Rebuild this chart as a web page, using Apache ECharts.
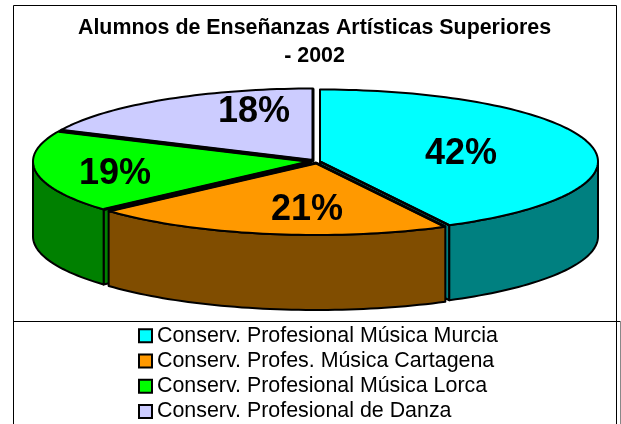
<!DOCTYPE html>
<html><head><meta charset="utf-8">
<style>html,body{margin:0;padding:0;background:#fff}#c{width:621px;height:424px}</style>
<script src="https://cdn.jsdelivr.net/npm/echarts@6/dist/echarts.min.js"></script>
</head><body><div id="c"></div>
<script>
const categories = ['Conserv. Profesional Música Murcia','Conserv. Profes. Música Cartagena','Conserv. Profesional Música Lorca','Conserv. Profesional de Danza'];
const shares = [42.3, 21.1, 18.5, 18.1];
const topColors = ['#00FFFF','#FF9900','#00FF00','#CCCCFF'];
const sideColors = ['#008080','#804D00','#008000','#666699'];
const titleLines = ['Alumnos de Enseñanzas Artísticas Superiores','- 2002'];

// layout of the pie (ellipse and the small explosion of each slice)
const RX = 278, RY = 72, DEPTH = 75;
const centers = [[320,161.5],[316,163],[311,161.5],[313,160.5]];
const labelPos = [[461,154],[307,210],[115,174],[254,112]];
const radialWidths = [2,3,3,3];
const drawOrder = [3,2,0,1];
const fs = 'Liberation Sans, Arial, sans-serif';

let acc = 0;
const ranges = shares.map(v => { const r = [acc, acc + v]; acc += v; return r; });
const total = acc;

function pt(c, deg, dy){ const t = deg*Math.PI/180; return [c[0]+RX*Math.sin(t), c[1]-RY*Math.cos(t)+(dy||0)]; }
function arc(c, a, b, dy){ const n = Math.max(2, Math.ceil(Math.abs(b-a)/1.5)); const out=[]; for(let i=0;i<=n;i++) out.push(pt(c, a+(b-a)*i/n, dy)); return out; }
const line = {stroke:'#000', lineWidth:2, lineJoin:'round'};

function makeRender(idx){
  return function(params, api){
    const a = api.value(0)/total*360, b = api.value(1)/total*360;
    const c = centers[idx], kids = [];
    const side = sideColors[idx];
    // cut faces that look towards the viewer
    const faces = [];
    if (b>90 && b<180) faces.push(b);
    if (a>180 && a<270) faces.push(a);
    faces.forEach(function(e){
      const r = pt(c,e);
      kids.push({type:'polygon',shape:{points:[c,r,[r[0],r[1]+DEPTH],[c[0],c[1]+DEPTH]]},style:Object.assign({fill:side},line)});
    });
    // outer wall
    const w1 = Math.max(a,90), w2 = Math.min(b,270);
    if (w1<w2) kids.push({type:'polygon',shape:{points:arc(c,w1,w2,0).concat(arc(c,w2,w1,DEPTH))},style:Object.assign({fill:side},line)});
    // top
    kids.push({type:'polygon',shape:{points:[c].concat(arc(c,a,b,0))},style:Object.assign({fill:topColors[idx]},line)});
    // radial edges of the top
    kids.push({type:'polyline',shape:{points:[pt(c,a),c,pt(c,b)]},style:{fill:'none',stroke:'#000',lineWidth:radialWidths[idx],lineJoin:'round'}});
    // percent label
    kids.push({type:'text',style:{text:Math.round(shares[idx])+'%',x:labelPos[idx][0],y:labelPos[idx][1],align:'center',verticalAlign:'middle',font:'bold 36px '+fs,fill:'#000'}});
    return {type:'group',children:kids};
  };
}

const frame = (s)=>({type:'line',shape:s,style:{stroke:'#000',lineWidth:1},silent:true});
const chart = echarts.init(document.getElementById('c'),null,{renderer:'canvas'});
chart.setOption({
  animation:false,
  backgroundColor:'#fff',
  title:{text:titleLines.join('\n'),left:309.5,top:9,textAlign:'center',textStyle:{fontFamily:fs,fontSize:21.4,fontWeight:'bold',color:'#000',lineHeight:28}},
  legend:{data:categories,orient:'vertical',left:138,top:323,height:120,padding:0,itemWidth:13,itemHeight:13,itemGap:0,icon:'rect',selectedMode:false,
    itemStyle:{borderColor:'#000',borderWidth:2},
    textStyle:{fontFamily:fs,fontSize:21.4,color:'#000',lineHeight:25.3}},
  graphic:[
    frame({x1:13.5,y1:5.5,x2:616.5,y2:5.5}),
    frame({x1:13.5,y1:5.5,x2:13.5,y2:424}),
    frame({x1:616.5,y1:5.5,x2:616.5,y2:424}),
    frame({x1:13,y1:321.5,x2:621,y2:321.5}),
    {type:'line',shape:{x1:620.5,y1:321,x2:620.5,y2:424},style:{stroke:'#888',lineWidth:1},silent:true}
  ],
  series:categories.map((name,i)=>({
    type:'custom',name:name,coordinateSystem:'none',silent:true,
    z:2+drawOrder.indexOf(i),
    itemStyle:{color:topColors[i]},
    data:[{value:ranges[i]}],
    renderItem:makeRender(i)
  }))
});
</script></body></html>
